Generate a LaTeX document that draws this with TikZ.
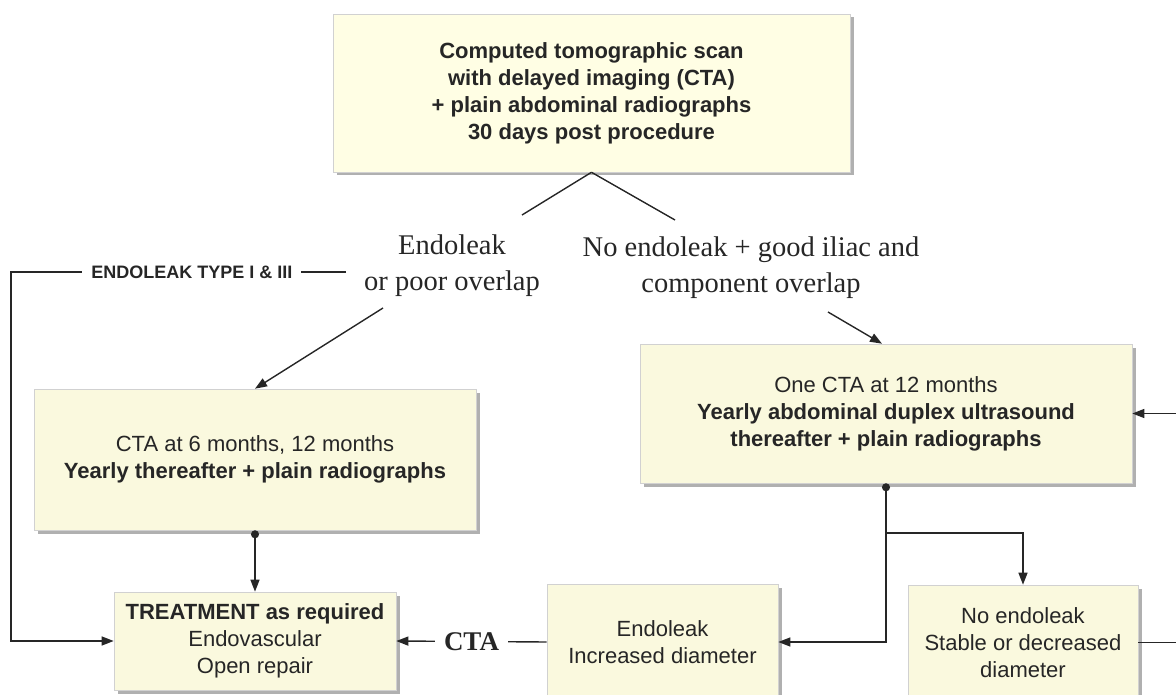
\documentclass[tikz,border=0pt]{standalone}
\usepackage{fontspec}
\setmainfont{Liberation Serif}
\setsansfont{Liberation Sans}
\usepackage{xcolor}
\usepackage{tikz}
\usetikzlibrary{shapes}
\usetikzlibrary{arrows.meta}
\usetikzlibrary{calc}
\usetikzlibrary{positioning}
\usetikzlibrary{shadows}

\definecolor{boxtop}{RGB}{255,254,228}
\definecolor{boxlow}{RGB}{250,249,222}
\definecolor{ink}{RGB}{38,38,38}

\begin{document}
\begin{tikzpicture}[
		x=1pt,
		y=-1pt,
		/utils/exec={\sffamily},
		font=\fontsize{22pt}{27pt}\selectfont,
		>={Triangle[length=12pt,width=9pt]},
		text=ink
	]
		\tikzset{box/.style={
			rectangle,
			draw=black!18,
			line width=0.6pt,
			align=center,
			inner sep=4,
			drop shadow={shadow xshift=3.5pt,shadow yshift=-3.5pt,fill=black!62},
		}}
		\tikzset{wire/.style={draw=ink, line width=1.4pt}}
		\tikzset{fromdot/.style={{Circle[length=8pt]}->}}
		\tikzset{branch/.style={
			font=\rmfamily\fontsize{28.5pt}{36pt}\selectfont,
			align=center,
			inner sep=0,
		}}
		\tikzset{tag/.style={
			fill=white,
			inner xsep=9,
			font=\bfseries\fontsize{18pt}{20pt}\selectfont,
		}}
		\tikzset{cta/.style={
			fill=white,
			inner xsep=9,
			font=\rmfamily\bfseries\fontsize{27pt}{30pt}\selectfont,
		}}

		\useasboundingbox (0,0) rectangle (1176,695);
		\clip (0,0) rectangle (1176,695);

		% boxes
		\node[box, fill=boxtop, minimum width=517pt, minimum height=158pt] (scan) at (591.5,93)
			{\bfseries Computed tomographic scan\\ \bfseries with delayed imaging (CTA)\\ \bfseries + plain abdominal radiographs\\ \bfseries 30 days post procedure};
		\node[box, fill=boxlow, minimum width=442pt, minimum height=141pt] (left) at (255,459.5)
			{CTA at 6 months, 12 months\\ \bfseries Yearly thereafter + plain radiographs};
		\node[box, fill=boxlow, minimum width=492pt, minimum height=139pt] (one) at (886,413.5)
			{One CTA at 12 months\\ \bfseries Yearly abdominal duplex ultrasound\\ \bfseries thereafter + plain radiographs};
		\node[box, fill=boxlow, minimum width=282pt, minimum height=98pt] (treat) at (255,641)
			{\bfseries TREATMENT as required\\ Endovascular\\ Open repair};
		\node[box, fill=boxlow, minimum width=231pt, minimum height=116pt] (incr) at (662.5,642)
			{Endoleak\\ Increased diameter};
		\node[box, fill=boxlow, minimum width=230pt, minimum height=115pt] (stable) at (1023,642.5)
			{No endoleak\\ Stable or decreased\\ diameter};

		% branch texts
		\node[branch] (endo) at (452,266) {Endoleak\\ or poor overlap};
		\node[branch] (nolk) at (751,268) {No endoleak + good iliac and\\ component overlap};

		\coordinate (vl) at (522,215);
		\coordinate (vr) at (675,220);
		\coordinate (el) at (346,272);
		\coordinate (elc) at (11,272);
		\coordinate (ea) at (383,308);
		\coordinate (nb) at (828,312);
		\coordinate (fork) at (886,533);

		% connectors
		\draw[wire] (scan.south) -- (vl);
		\draw[wire] (scan.south) -- (vr);
		\draw[wire,->] (ea) -- (left.north);
		\draw[wire,->] (nb) -- ([xshift=-4pt]one.north);
		\draw[wire,->] (el) -- node[tag,pos=0.46] {ENDOLEAK TYPE I \& III} (elc) |- (treat.west);
		\draw[wire,fromdot] (left.south) -- (treat.north);
		\draw[wire,fromdot] (one.south) |- (incr.east);
		\draw[wire,->] (fork) -| (stable.north);
		\draw[wire,->] (incr.west) -- node[cta] {CTA} (treat.east);
		\draw[wire,->] (stable.east) -- ++(70,0) |- (one.east);
	\end{tikzpicture}
\end{document}
